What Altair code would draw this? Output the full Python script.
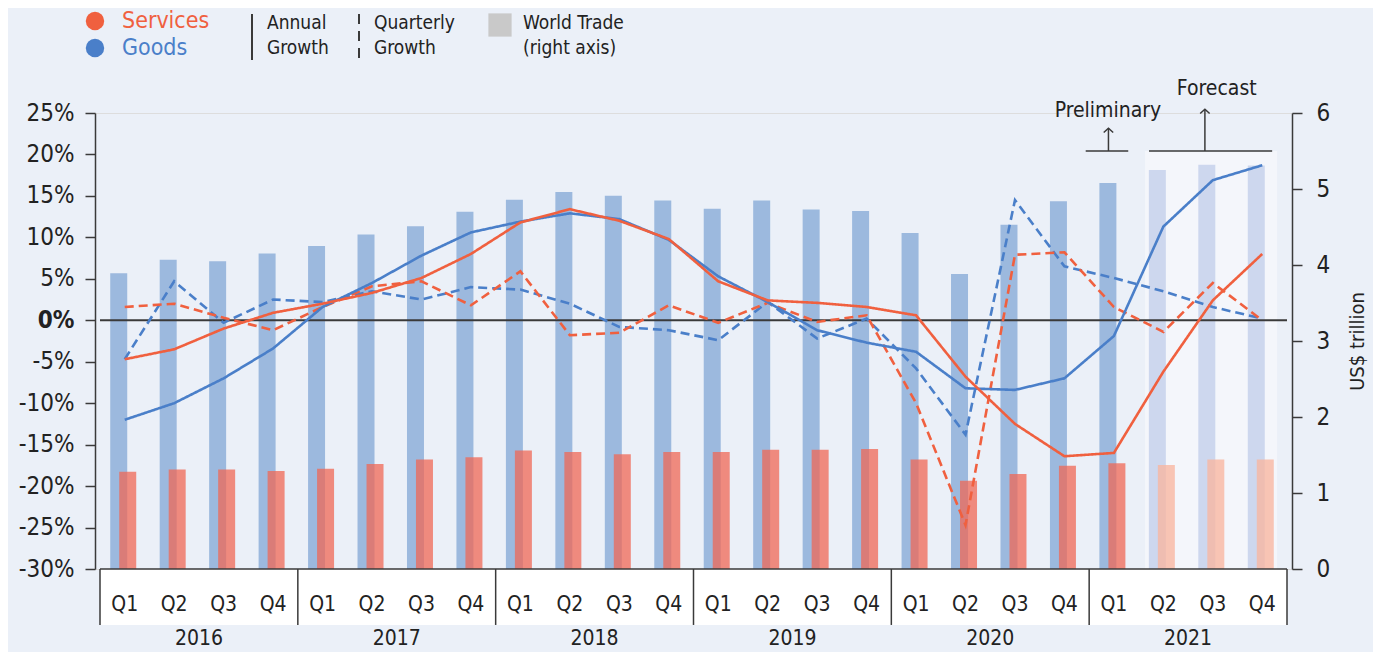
import altair as alt
import pandas as pd

# ---------------- data ----------------
quarters = ["Q1", "Q2", "Q3", "Q4"]
years = ["2016", "2017", "2018", "2019", "2020", "2021"]

services_annual = [-4.7, -3.5, -1.0, 0.9, 2.0, 3.3, 5.1, 8.0, 11.8, 13.4, 12.0, 9.8,
                   4.7, 2.4, 2.1, 1.6, 0.6, -6.8, -12.5, -16.4, -16.0, -6.2, 2.4, 8.0]
goods_annual = [-12.0, -10.0, -7.0, -3.4, 1.6, 4.5, 7.8, 10.6, 11.9, 12.9, 12.2, 9.7,
                5.3, 2.2, -1.2, -2.7, -3.8, -8.2, -8.4, -7.0, -1.9, 11.3, 16.9, 18.7]
services_quarterly = [1.6, 2.0, 0.3, -1.2, 1.6, 4.1, 4.7, 1.8, 5.9, -1.8, -1.5, 1.8,
                      -0.3, 2.1, -0.2, 0.6, -10.0, -24.7, 7.9, 8.2, 1.6, -1.4, 4.5, 0.0]
goods_quarterly = [-4.7, 4.7, -0.3, 2.5, 2.2, 3.5, 2.5, 4.0, 3.7, 2.0, -0.8, -1.2,
                   -2.4, 2.2, -2.2, 0.2, -5.8, -13.8, 14.5, 6.5, 5.1, 3.5, 1.6, 0.2]
goods_trade = [3.89, 4.07, 4.05, 4.15, 4.25, 4.40, 4.51, 4.70, 4.86, 4.96, 4.91, 4.85,
               4.74, 4.85, 4.73, 4.71, 4.42, 3.88, 4.53, 4.84, 5.08, 5.25, 5.32, 5.31]
services_trade = [1.28, 1.31, 1.31, 1.29, 1.32, 1.38, 1.44, 1.47, 1.56, 1.54, 1.51, 1.54,
                  1.54, 1.57, 1.57, 1.58, 1.44, 1.16, 1.25, 1.36, 1.39, 1.37, 1.44, 1.44]
status = ["actual"] * 21 + ["forecast"] * 3

RED = "#f0603f"
BLUE = "#4a7fc9"
DARK = "#3a3a3a"
TXT = "#222222"
FONT = "'DejaVu Sans Condensed', 'Liberation Sans Narrow', Roboto, sans-serif"

n = len(goods_trade)
idx = list(range(n))
qlab = [quarters[i % 4] for i in idx]

bars = pd.DataFrame({"idx": idx, "goods": goods_trade, "services": services_trade, "status": status})
lines = pd.DataFrame({"idx": idx, "sa": services_annual, "ga": goods_annual,
                      "sq": services_quarterly, "gq": goods_quarterly})

xs = alt.Scale(domain=[-0.5, 23.5], nice=False, zero=False)
pct = alt.Scale(domain=[-30, 25], nice=False, zero=False)
tn = alt.Scale(domain=[0, 6], nice=False, zero=False)

left_axis = alt.Axis(orient="left", values=list(range(-30, 30, 5)), labelExpr="datum.value + '%'",
                     tickSize=10, tickWidth=1.5, tickColor=DARK, domainColor=DARK, domainWidth=1.5,
                     labelFontSize=24, labelColor=TXT, labelPadding=11, grid=False, title=None,
                     labelFont=FONT,
                     labelFontWeight={"condition": {"test": "datum.value == 0", "value": "bold"}, "value": "normal"})
right_axis = alt.Axis(orient="right", values=[0, 1, 2, 3, 4, 5, 6], tickSize=10, tickWidth=1.5,
                      tickColor=DARK, domainColor=DARK, domainWidth=1.5, labelFontSize=24, labelFont=FONT,
                      labelColor=TXT, labelPadding=14, grid=False, title="US$ trillion",
                      titleFontSize=20, titleFontWeight="normal", titleColor=TXT, titlePadding=18,
                      titleAngle=270, titleBaseline="top", titleFont=FONT)


def X(field):
    return alt.X(field, type="quantitative", scale=xs, axis=None)


def Yp(field):
    return alt.Y(field, type="quantitative", scale=pct, axis=left_axis)


def Yt(field):
    return alt.Y(field, type="quantitative", scale=tn, axis=right_axis)


# ---------------- right-axis group ----------------
shade_df = pd.DataFrame({"x": [20.63], "x2": [23.30], "y": [5.5], "y2": [0.0]})
shade = alt.Chart(shade_df).mark_rect(fill="#f4f6fb").encode(x=X("x"), x2="x2", y=Yt("y"), y2="y2")

act = alt.datum.status == "actual"
fc = alt.datum.status == "forecast"
goods_act = alt.Chart(bars).transform_filter(act).mark_bar(size=17, xOffset=-6, color="#9cb9de").encode(
    x=X("idx"), y=Yt("goods"))
goods_fc = alt.Chart(bars).transform_filter(fc).mark_bar(size=17, xOffset=-6, color="#cdd7ee").encode(
    x=X("idx"), y=Yt("goods"))
serv_act = alt.Chart(bars).transform_filter(act).mark_bar(size=17, xOffset=3, color="#f06754", opacity=0.74).encode(
    x=X("idx"), y=Yt("services"))
serv_fc = alt.Chart(bars).transform_filter(fc).mark_bar(size=17, xOffset=3, color="#f8b6a0", opacity=0.78).encode(
    x=X("idx"), y=Yt("services"))

brk_df = pd.DataFrame({"x": [19.43, 20.71], "x2": [20.29, 23.20], "y": [5.5, 5.5]})
brackets = alt.Chart(brk_df).mark_rule(color=DARK, strokeWidth=1.5).encode(x=X("x"), x2="x2", y=Yt("y"))
arr_df = pd.DataFrame({"x": [19.89, 21.84], "y": [5.5, 5.5], "y2": [5.80, 6.05]})
arrows = alt.Chart(arr_df).mark_rule(color=DARK, strokeWidth=1.5).encode(x=X("x"), y=Yt("y"), y2="y2")
heads = alt.Chart(arr_df).mark_point(shape="M-1,0.9L0,0L1,0.9", filled=False, size=90, color=DARK,
                                     strokeWidth=1.5, opacity=1).encode(x=X("x"), y=Yt("y2"))
ann_df = pd.DataFrame({"x": [19.88, 22.08], "y": [6.03, 6.32], "t": ["Preliminary", "Forecast"]})
ann = alt.Chart(ann_df).mark_text(fontSize=21, color=TXT, baseline="middle", font=FONT).encode(
    x=X("x"), y=Yt("y"), text="t:N")

right = alt.layer(shade, goods_act, goods_fc, serv_act, serv_fc, brackets, arrows, heads, ann)

# ---------------- left-axis group ----------------
strip_df = pd.DataFrame({"x": [-0.5], "x2": [23.5], "y": [-30.0], "y2": [-36.75]})
strip = alt.Chart(strip_df).mark_rect(fill="white").encode(x=X("x"), x2="x2", y=Yp("y"), y2="y2")
div_df = pd.DataFrame({"x": [-0.5, 3.5, 7.5, 11.5, 15.5, 19.5, 23.5], "y": [-30.0] * 7, "y2": [-36.75] * 7})
dividers = alt.Chart(div_df).mark_rule(color=DARK, strokeWidth=1.5).encode(x=X("x"), y=Yp("y"), y2="y2")
base_df = pd.DataFrame({"x": [-0.5], "x2": [23.5], "y": [-30.0]})
base_line = alt.Chart(base_df).mark_rule(color=DARK, strokeWidth=1.5).encode(x=X("x"), x2="x2", y=Yp("y"))
zero_df = pd.DataFrame({"x": [-0.5], "x2": [23.5], "y": [0.0]})
zero_line = alt.Chart(zero_df).mark_rule(color=DARK, strokeWidth=2.2).encode(x=X("x"), x2="x2", y=Yp("y"))


def line(field, color, dash):
    return alt.Chart(lines).mark_line(strokeWidth=2.6, color=color, strokeDash=dash).encode(
        x=X("idx"), y=Yp(field))


lines_layers = [line("gq", BLUE, [9, 5]), line("sq", RED, [9, 5]),
                line("ga", BLUE, [1, 0]), line("sa", RED, [1, 0])]

q_df = pd.DataFrame({"idx": idx, "q": qlab, "y": [-34.34] * n})
q_text = alt.Chart(q_df).mark_text(fontSize=21, color=TXT, font=FONT, baseline="middle").encode(
    x=X("idx"), y=Yp("y"), text="q:N")
y_df = pd.DataFrame({"idx": [1.5 + 4 * k for k in range(len(years))], "yr": years, "y": [-38.4] * len(years)})
y_text = alt.Chart(y_df).mark_text(fontSize=21, color=TXT, font=FONT, baseline="middle").encode(
    x=X("idx"), y=Yp("y"), text="yr:N")

# ---------------- legend (chrome) ----------------
one = pd.DataFrame({"a": [0]})
leg = [
    alt.Chart(one).mark_circle(size=340, color=RED, opacity=1).encode(x=alt.value(0), y=alt.value(-92)),
    alt.Chart(one).mark_circle(size=340, color=BLUE, opacity=1).encode(x=alt.value(0), y=alt.value(-65)),
    alt.Chart(one).mark_text(text="Services", fontSize=23, color=RED, align="left", baseline="middle", font=FONT).encode(x=alt.value(27), y=alt.value(-92)),
    alt.Chart(one).mark_text(text="Goods", fontSize=23, color=BLUE, align="left", baseline="middle", font=FONT).encode(x=alt.value(27), y=alt.value(-65)),
    alt.Chart(one).mark_rule(color=DARK, strokeWidth=2).encode(x=alt.value(157), y=alt.value(-99), y2=alt.value(-53)),
    alt.Chart(one).mark_rule(color=DARK, strokeWidth=2, strokeDash=[10, 7]).encode(x=alt.value(264), y=alt.value(-99), y2=alt.value(-53)),
    alt.Chart(one).mark_square(size=540, color="#c9c9c9", opacity=1).encode(x=alt.value(405), y=alt.value(-88)),
]
for xx, t1, t2 in [(172, "Annual", "Growth"), (279, "Quarterly", "Growth"), (428, "World Trade", "(right axis)")]:
    leg.append(alt.Chart(one).mark_text(text=t1, fontSize=19, color=TXT, align="left", baseline="middle", font=FONT).encode(x=alt.value(xx), y=alt.value(-90)))
    leg.append(alt.Chart(one).mark_text(text=t2, fontSize=19, color=TXT, align="left", baseline="middle", font=FONT).encode(x=alt.value(xx), y=alt.value(-65)))

left = alt.layer(strip, dividers, base_line, zero_line, *lines_layers, q_text, y_text, *leg)

chart = alt.layer(right, left).resolve_scale(y="independent").properties(
    width=1197, height=456,
    autosize=alt.AutoSizeParams(type="none"),
    padding={"left": 87, "top": 105, "right": 81, "bottom": 83},
    background="#ebf0f8",
).configure_view(stroke=None).configure(font=FONT)

chart.save("out.html", embed_options={"renderer": "svg", "actions": False})
